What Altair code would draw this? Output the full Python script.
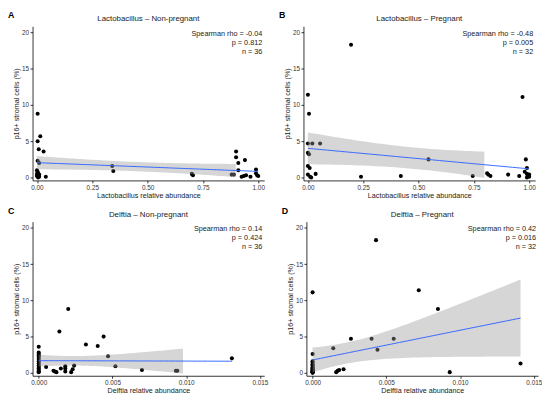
import altair as alt
import numpy as np
import pandas as pd

# ---------------- data ----------------
# Panel A: Lactobacillus - Non-pregnant
A_x = [0.003, 0.003, 0.015, 0.008, 0.030, 0.003, 0.010, 0.000, 0.003, 0.005,
       0.000, 0.010, 0.003, 0.000, 0.010, 0.040, 0.005,
       0.340, 0.345, 0.700, 0.705,
       0.880, 0.890, 0.900, 0.900, 0.910, 0.910, 0.940, 0.925, 0.935, 0.945,
       0.965, 0.990, 0.990, 0.995, 1.000]
A_y = [8.8, 5.0, 5.7, 3.9, 3.6, 2.3, 2.0, 1.0, 0.8, 0.6,
       0.5, 0.4, 0.3, 0.2, 0.1, 0.1, 0.0,
       1.6, 0.9, 0.5, 0.3,
       0.4, 0.4, 3.6, 2.8, 2.0, 1.0, 2.4, 0.1, 0.2, 0.3,
       0.1, 1.1, 0.6, 0.3, 0.2]

# Panel B: Lactobacillus - Pregnant
B_x = [0.000, 0.005, 0.000, 0.020, 0.055, 0.000, 0.005, 0.000, 0.008, 0.000,
       0.010, 0.015, 0.035,
       0.195, 0.240, 0.420, 0.545, 0.745,
       0.810, 0.815, 0.825, 0.905, 0.955, 0.970, 0.980, 0.985, 0.990, 0.990,
       0.995, 1.000, 0.990, 1.000]
B_y = [11.4, 8.8, 4.7, 4.7, 4.7, 3.4, 3.2, 1.6, 1.3, 0.4,
       0.1, 0.0, 0.5,
       18.3, 0.1, 0.2, 2.5, 0.2,
       0.6, 0.4, 0.2, 0.4, 0.2, 11.1, 0.8, 2.5, 1.3, 0.5,
       0.3, 0.1, 0.0, 0.4]

# Panel C: Delftia - Non-pregnant
C_x = [0.0] * 14 + [
       0.0005, 0.0010, 0.0011, 0.0012, 0.0014, 0.0015, 0.0018, 0.0018, 0.0018,
       0.0020, 0.0023, 0.0024, 0.0022, 0.0032, 0.0040, 0.0044, 0.0047, 0.0052,
       0.0070, 0.0093, 0.0094, 0.0131]
C_y = [3.6, 2.8, 2.6, 2.4, 2.2, 1.9, 1.6, 1.3, 1.0, 0.8, 0.6, 0.4, 0.2, 0.1,
       0.8, 0.3, 0.2, 0.1, 5.7, 0.6, 0.9, 0.6, 0.2,
       8.8, 0.5, 1.0, 0.1, 3.9, 3.7, 5.0, 2.3, 0.9,
       0.4, 0.3, 0.3, 2.0]

# Panel D: Delftia - Pregnant
D_x = [0.0] * 18 + [
       0.0014, 0.0016, 0.0017, 0.0018, 0.0021, 0.0026, 0.0040, 0.0043, 0.0044,
       0.0055, 0.0072, 0.0085, 0.0093, 0.0141]
D_y = [11.1, 2.6, 1.6, 1.4, 1.2, 1.0, 0.8, 0.7, 0.6, 0.5, 0.4, 0.3, 0.3, 0.2,
       0.2, 0.1, 0.1, 0.0,
       3.4, 0.1, 0.3, 0.4, 0.5, 4.7, 4.7, 18.3, 3.2,
       4.7, 11.4, 8.8, 0.1, 1.3]

keys = ["A", "B", "C", "D"]
titles = ["Lactobacillus \u2013 Non-pregnant", "Lactobacillus \u2013 Pregnant",
          "Delftia \u2013 Non-pregnant", "Delftia \u2013 Pregnant"]
xlabels = ["Lactobacillus relative abundance", "Lactobacillus relative abundance",
           "Delftia relative abundance", "Delftia relative abundance"]
rhos = ["-0.04", "-0.48", "0.14", "0.42"]
pvals = ["0.812", "0.005", "0.424", "0.016"]
ns = [36, 32, 36, 32]
band_end = [0.91, 0.80, 0.0098, 0.0141]
xs = [A_x, B_x, C_x, D_x]
ys = [A_y, B_y, C_y, D_y]
lacto_ticks = [0, 0.25, 0.5, 0.75, 1.0]
delftia_ticks = [0, 0.005, 0.010, 0.015]

W, H = 236, 157
FONT = "Liberation Sans"
T975 = {36: 2.032, 32: 2.042}


def panel(i):
    x = np.array(xs[i], dtype=float)
    y = np.array(ys[i], dtype=float)
    n = len(x)
    b, a = np.polyfit(x, y, 1)
    resid = y - (a + b * x)
    s = np.sqrt((resid ** 2).sum() / (n - 2))
    xbar = x.mean()
    sxx = ((x - xbar) ** 2).sum()
    grid = np.linspace(x.min(), x.max(), 80)
    fit = a + b * grid
    se = s * np.sqrt(1.0 / n + (grid - xbar) ** 2 / sxx)
    t = T975.get(ns[i], 2.03)
    fdf = pd.DataFrame({"x": grid, "fit": fit, "lo": fit - t * se, "hi": fit + t * se})
    bdf = fdf[fdf["x"] <= band_end[i] + 1e-12]

    lacto = i < 2
    xdom = [-0.02, 1.027] if lacto else [-0.00042, 0.01529]
    xscale = alt.Scale(domain=xdom, nice=False, zero=False)
    yscale = alt.Scale(domain=[-0.4, 20.85], nice=False, zero=False)
    xaxis = alt.Axis(values=lacto_ticks if lacto else delftia_ticks,
                     format=".2f" if lacto else ".3f", title=xlabels[i],
                     labelOverlap=False)
    yaxis = alt.Axis(tickCount=5, format="d", title="p16+ stromal cells (%)",
                     labelOverlap=False)

    pts = alt.Chart(pd.DataFrame({"x": x, "y": y})).mark_circle(
        size=17, color="black", opacity=1
    ).encode(x=alt.X("x:Q", scale=xscale, axis=xaxis),
             y=alt.Y("y:Q", scale=yscale, axis=yaxis))
    band = alt.Chart(bdf).mark_area(color="#999999", opacity=0.4).encode(
        x="x:Q", y="lo:Q", y2="hi:Q")
    line = alt.Chart(fdf).mark_line(color="#3366FF", strokeWidth=1).encode(
        x="x:Q", y="fit:Q")
    ann_text = f"Spearman rho = {rhos[i]}\np = {pvals[i]}\nn = {ns[i]}"
    ann = alt.Chart(pd.DataFrame({"t": [ann_text]})).mark_text(
        align="right", baseline="top", lineBreak="\n", lineHeight=9,
        fontSize=7.4, font=FONT, color="#222222"
    ).encode(x=alt.value(W - 2), y=alt.value(4), text="t:N")
    ttl = alt.Chart(pd.DataFrame({"t": [titles[i]]})).mark_text(
        align="center", baseline="alphabetic", fontSize=8,
        font=FONT, color="#222222"
    ).encode(x=alt.value(W / 2), y=alt.value(-5), text="t:N")
    lab = alt.Chart(pd.DataFrame({"t": [keys[i]]})).mark_text(
        align="left", baseline="top", fontSize=9, fontWeight="bold",
        font=FONT, color="black"
    ).encode(x=alt.value(-25), y=alt.value(-15), text="t:N")
    return alt.layer(pts, band, line, ann, ttl, lab).properties(width=W, height=H)


row1 = alt.hconcat(panel(0), panel(1), spacing=14)
row2 = alt.hconcat(panel(2), panel(3), spacing=14)
chart = alt.vconcat(row1, row2, spacing=8).properties(
    padding={"left": 0, "top": 0, "right": 0, "bottom": 0}
).configure_view(stroke=None).configure_axis(
    grid=False, domainColor="black", domainWidth=0.8, tickColor="black",
    tickWidth=0.8, tickSize=2.5, labelFont=FONT, titleFont=FONT, labelFontSize=6.5,
    titleFontSize=7.3, titleFontWeight="normal", labelColor="#333333",
    titleColor="#222222", labelPadding=1.5, titlePadding=1,
).configure_axisX(labelFlush=False).configure_axisY(labelFlush=False)

chart.save("out.html", embed_options={"renderer": "svg", "actions": False})
